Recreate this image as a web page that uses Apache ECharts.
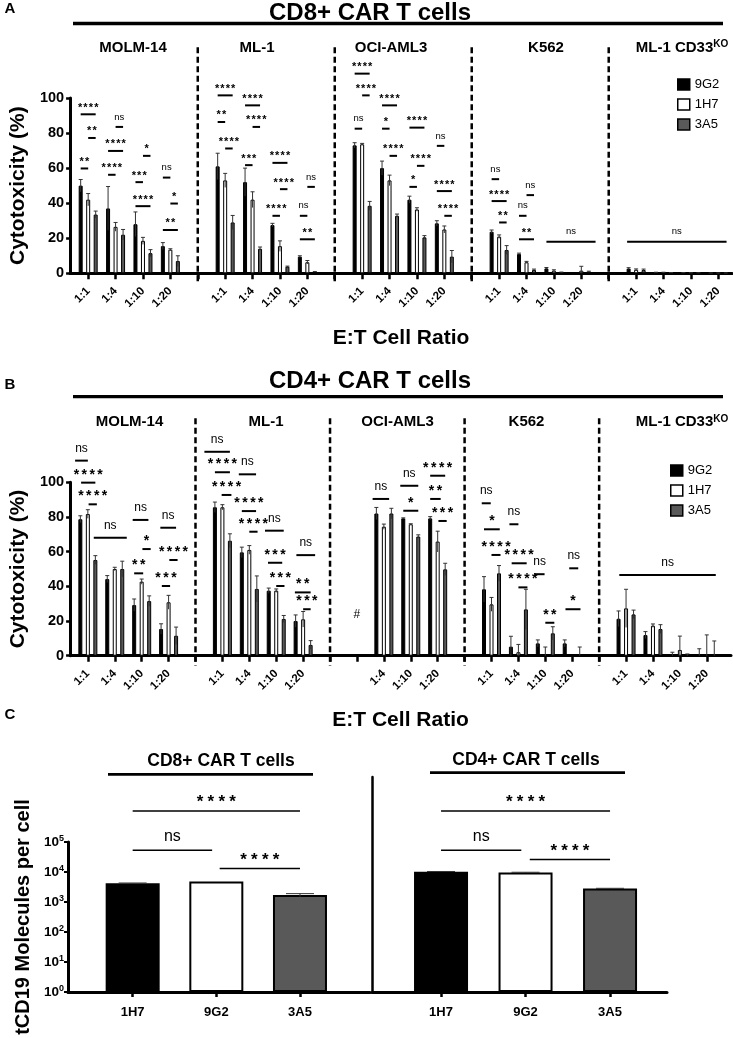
<!DOCTYPE html>
<html>
<head>
<meta charset="utf-8">
<title>CAR T cytotoxicity</title>
<script src="https://cdn.jsdelivr.net/npm/echarts@6.0.0/dist/echarts.min.js"></script>
<style>
  html, body { margin: 0; padding: 0; background: #fff; }
  #chart { width: 733px; height: 1038px; }
</style>
</head>
<body>
<div id="chart"></div>
<script>
const FONT = "'Liberation Sans', Arial, Helvetica, sans-serif"

// 5 target lines x 4 E:T ratios, one empty slot between target lines
const cellLines = ['MOLM-14', 'ML-1', 'OCI-AML3', 'K562', 'ML-1 CD33KO']
const ratios = ['1:1', '1:4', '1:10', '1:20']
const constructs = ['9G2', '1H7', '3A5']

// panel A - CD8+ CAR T cells, cytotoxicity (%)
const cd8_9G2 = [50, 37, 28, 15.5, 61, 52, 27.5, 9.5, 73, 60, 42, 28.5, 23.7, 11, 2.8, 0.3, 2.7, 0.4, 0.2, 0.1]
const cd8_1H7 = [42, 26.5, 18.5, 13.5, 53, 42, 15.5, 6.3, 73.6, 53, 36.4, 25, 20.9, 6.3, 1.5, 1.5, 2, 0.4, 0.2, 0.1]
const cd8_3A5 = [33.5, 22, 11.5, 7, 29, 14, 3.8, 0.8, 38.5, 32.8, 20.5, 9.5, 13.3, 1.9, 0.5, 1, 1.9, 0.3, 0.2, 0.1]
const cd8_9G2_sd = [3.5, 12.5, 7, 2, 7.5, 8, 1, 0.5, 1.5, 4, 2, 1.5, 1, 0.5, 0.5, 0, 0.5, 0.2, 0.2, 0.1]
const cd8_1H7_sd = [3.5, 2.5, 2, 0.5, 4, 4.5, 3, 1, 0.5, 3, 1, 2, 1, 0.5, 0.5, 2.5, 0.5, 0.2, 0.1, 0.1]
const cd8_3A5_sd = [2, 3, 2, 3, 4, 1, 0.3, 0.2, 2.5, 1, 1, 3.5, 2.5, 0.5, 0.2, 0.2, 0.5, 0.1, 0.1, 0.1]

// panel B - CD4+ CAR T cells (OCI-AML3 1:1 not tested)
const cd4_9G2 = [78.7, 44.2, 29.2, 15.4, 85.6, 59.6, 37.5, 20, null, 82, 79.2, 79.2, 38.3, 5.2, 7.1, 7.1, 21.3, 11.9, 0, 0]
const cd4_1H7 = [81.7, 50, 42.7, 30.8, 85.6, 61, 37.5, 21, null, 74.4, 75.8, 65.8, 29.6, 2, 0, 0, 27.3, 17.3, 3.3, 0]
const cd4_3A5 = [55.2, 50, 31.5, 11.5, 66.3, 38.5, 21.2, 6.2, null, 82, 68.7, 49.8, 47.5, 26.7, 12.9, 0, 23.8, 15.4, 0.5, 0]
const cd4_9G2_sd = [2, 2, 3.5, 3, 3, 3, 1.5, 3.5, null, 3.5, 0.3, 1, 7.3, 6, 2, 2, 4.5, 2, 2, 4]
const cd4_1H7_sd = [2.5, 1, 1.5, 4, 1.5, 2.5, 1, 4.5, null, 1.5, 0.3, 6, 4, 4.5, 5, 0, 11, 1, 8, 12]
const cd4_3A5_sd = [2.5, 4.5, 3, 5, 4, 7.5, 2, 2.5, null, 3, 1, 3.5, 4.5, 11.6, 3.8, 5, 2.5, 2.5, 0.5, 8.5]

// significance brackets: [slot from, bar from, slot to, bar to, height, label]
const sigA = [
  [0, 0, 0, 2, 90.7, '****'], [0, 1, 0, 2, 77.2, '**'], [0, 0, 0, 1, 59.8, '**'],
  [1, 1, 1, 2, 83.5, 'ns'], [1, 0, 1, 2, 69.8, '****'], [1, 0, 1, 1, 56.2, '****'],
  [2, 1, 2, 2, 67, '*'], [2, 0, 2, 1, 52, '***'], [2, 0, 2, 2, 38.3, '****'],
  [3, 0, 3, 1, 54.6, 'ns'], [3, 1, 3, 2, 39.8, '*'], [3, 0, 3, 2, 24.7, '**'],
  [5, 0, 5, 2, 101.5, '****'], [5, 0, 5, 1, 86.3, '**'], [5, 1, 5, 2, 71.2, '****'],
  [6, 0, 6, 2, 95.8, '****'], [6, 1, 6, 2, 83.5, '****'], [6, 0, 6, 1, 61.7, '***'],
  [7, 0, 7, 2, 63, '****'], [7, 1, 7, 2, 48, '****'], [7, 0, 7, 1, 32.8, '****'],
  [8, 1, 8, 2, 49.3, 'ns'], [8, 0, 8, 1, 32.8, 'ns'], [8, 0, 8, 2, 19.4, '**'],
  [10, 0, 10, 2, 113.9, '****'], [10, 1, 10, 2, 101.5, '****'], [10, 0, 10, 1, 82.5, 'ns'],
  [11, 0, 11, 2, 95.8, '****'], [11, 0, 11, 1, 82.5, '*'], [11, 1, 11, 2, 67, '****'],
  [12, 0, 12, 2, 83.1, '****'], [12, 1, 12, 2, 61.3, '****'], [12, 0, 12, 1, 49.3, '*'],
  [13, 0, 13, 1, 72.7, 'ns'], [13, 0, 13, 2, 46.9, '****'], [13, 1, 13, 2, 32.8, '****'],
  [15, 0, 15, 1, 53.7, 'ns'], [15, 0, 15, 2, 41.2, '****'], [15, 1, 15, 2, 29, '**'],
  [16, 1, 16, 2, 44.6, 'ns'], [16, 0, 16, 1, 32.8, 'ns'], [16, 0, 16, 2, 19.4, '**'],
  [17, 0, 18, 2.9, 18, 'ns'],
  [20, -0.2, 23, 2.1, 18, 'ns']
]
const sigB = [
  [0, -0.7, 0, 1, 112.5, 'ns'], [0, 0.1, 0, 2, 99.8, '****'], [0, 1.1, 0, 2.2, 87.3, '****'],
  [1, -1.8, 1, 2.6, 68, 'ns'],
  [2, -0.2, 2, 1.9, 78.3, 'ns'], [2, 1.1, 2, 2.2, 61.5, '*'], [2, 0, 2, 1.2, 47.5, '**'],
  [3, -0.1, 3, 2, 73.8, 'ns'], [3, 1.1, 3, 2.2, 55.2, '****'], [3, 0.1, 3, 1.2, 40.2, '***'],
  [5, -1.4, 5, 2, 117.6, 'ns'], [5, 0, 5, 2, 105.8, '****'], [5, 0.9, 5, 2.2, 92.7, '****'],
  [6, -0.4, 6, 1.9, 104.6, 'ns'], [6, 0, 6, 1.9, 83.4, '****'], [6, 1, 6, 2.1, 71.5, '****'],
  [7, -0.5, 7, 2, 72.1, 'ns'], [7, -0.1, 7, 1.8, 53.6, '***'], [7, 1, 7, 2.1, 40.2, '***'],
  [8, 0.1, 8, 2.6, 58, 'ns'], [8, -0.1, 8, 2, 36.5, '**'], [8, 1, 8, 2, 26.8, '***'],
  [10, 1, 10, 1, 23.5, '#'],
  [11, -0.5, 11, 1.7, 90.4, 'ns'],
  [12, -0.4, 12, 2, 98, 'ns'], [12, 0, 12, 2, 83.6, '*'],
  [13, 0, 13, 2, 103.8, '****'], [13, 0, 13, 1.4, 90.4, '**'], [13, 1.1, 13, 2.2, 77.7, '***'],
  [15, -0.3, 15, 0.9, 87.9, 'ns'], [15, 0, 15, 2.1, 72.9, '*'], [15, 1, 15, 2.2, 58.1, '****'],
  [16, -0.2, 16, 1, 75.8, 'ns'], [16, 0.1, 16, 2.1, 53.3, '****'], [16, 1, 16, 2.2, 39.4, '****'],
  [17, -0.4, 17, 0.9, 47, 'ns'], [17, 1, 17, 2.2, 19, '**'],
  [18, 0.6, 18, 1.8, 50.4, 'ns'], [18, 0.1, 18, 2.1, 26.8, '*'],
  [20, 0.1, 23, 2.2, 46.5, 'ns']
]

// panel C - tCD19 molecules per cell
const mfiLabels = ['1H7', '9G2', '3A5']
const mfiColors = ['#000000', '#ffffff', '#595959']
const cd8Molecules = [4200, 4800, 1700]
const cd8Molecules_sd = [100, 0, 200]
const cd4Molecules = [10200, 9600, 2800]
const cd4Molecules_sd = [200, 200, 60]
const sigC8 = [[0, 1, 2, 1, 1.08e6, '****'], [0, 1, 0.95, 1, 5.28e4, 'ns'], [1.04, 1, 2, 1, 1.3e4, '****']]
const sigC4 = [[0, 1, 2, 1, 1.08e6, '****'], [0, 1, 0.95, 1, 5.28e4, 'ns'], [1.05, 1, 2, 1, 2.59e4, '****']]

const barColors = ['#000000', '#ffffff', '#595959']
const slot = i => Math.floor(i / 4) * 5 + (i % 4)
const allSlots = Array.from({ length: 24 }, (_, i) => i)
const labelSlots = allSlots.filter(i => i % 5 !== 4)

function slotLabel(v) {
    const r = Math.round(v) % 5
    return r < 4 ? ratios[r] : ''
}

function barSeries(name, values, idx, k) {
    return {
        type: 'bar', name: name, xAxisIndex: idx, yAxisIndex: idx,
        data: values.map((v, i) => [slot(i), v == null ? '-' : v]),
        barWidth: 4, barGap: '87.5%',
        itemStyle: { color: barColors[k], borderColor: '#000', borderWidth: 1 },
        emphasis: { disabled: true }, z: 2
    }
}

function errorSeries(values, sd, idx, offset, cap, xs) {
    const data = []
    values.forEach((v, i) => {
        if (v != null) data.push([xs ? xs[i] : slot(i), v, sd[i]])
    })
    return {
        type: 'custom', xAxisIndex: idx, yAxisIndex: idx, clip: false, silent: true, z: 4,
        data: data,
        renderItem: function (params, api) {
            const x = api.value(0), v = api.value(1), e = api.value(2)
            if (!e) return
            const lo = Math.max(v - e, idx >= 2 ? 1 : 0)
            const pTop = api.coord([x, v + e])
            const pLow = api.coord([x, lo])
            const px = pTop[0] + offset
            const st = { stroke: '#333', lineWidth: 1 }
            return {
                type: 'group', children: [
                    { type: 'line', shape: { x1: px, y1: pLow[1], x2: px, y2: pTop[1] }, style: st },
                    { type: 'line', shape: { x1: px - cap, y1: pTop[1], x2: px + cap, y2: pTop[1] }, style: st }
                ]
            }
        }
    }
}

function sigSeries(list, idx, step, cfg) {
    return {
        type: 'custom', xAxisIndex: idx, yAxisIndex: idx, clip: false, silent: true, z: 5,
        data: list.map(a => [a[0], a[4]]),
        renderItem: function (params, api) {
            const a = list[params.dataIndex]
            const p0 = api.coord([a[0], a[4]])
            const p1 = api.coord([a[2], a[4]])
            const x0 = p0[0] + (a[1] - 1) * step
            const x1 = p1[0] + (a[3] - 1) * step
            const y = p0[1]
            const cx = (x0 + x1) / 2
            const label = a[5]
            if (label === '#') {
                return { type: 'text', x: cx, y: y, style: { text: '#', fontSize: cfg.ns, fontFamily: FONT, fill: '#000', align: 'center', verticalAlign: 'middle' } }
            }
            let textEl
            if (label === 'ns') {
                textEl = { type: 'text', x: cx, y: y - cfg.d - cfg.ns * 0.1,
                    style: { text: 'ns', fontSize: cfg.ns, fontFamily: FONT, fill: '#000', align: 'center', verticalAlign: 'middle' } }
            } else {
                textEl = { type: 'text', x: cx, y: y - cfg.d + cfg.ast * 0.22,
                    style: {
                        text: label.split('').map(() => '{s|*}').join(''), fill: '#000', align: 'center', verticalAlign: 'middle',
                        rich: { s: { width: cfg.astW, align: 'center', fontSize: cfg.ast, fontWeight: 'bold', fontFamily: FONT, fill: '#000' } }
                    } }
            }
            return {
                type: 'group', children: [
                    { type: 'line', shape: { x1: x0, y1: y, x2: x1, y2: y }, style: { stroke: '#000', lineWidth: cfg.lw } },
                    textEl
                ]
            }
        }
    }
}

function separatorSeries(idx, top) {
    return {
        type: 'custom', xAxisIndex: idx, yAxisIndex: idx, clip: false, silent: true, z: 1,
        data: [[4, 0], [9, 0], [14, 0], [19, 0]],
        renderItem: function (params, api) {
            const pTop = api.coord([api.value(0), top])
            const pBot = api.coord([api.value(0), 0])
            return { type: 'line', shape: { x1: pTop[0], y1: pTop[1], x2: pBot[0], y2: pBot[1] + 10 },
                style: { stroke: '#000', lineWidth: 2.5, lineDash: [6, 3.5] } }
        }
    }
}

function ratioAxis(idx, max, labels) {
    return {
        type: 'value', gridIndex: idx, min: -0.66, max: max,
        name: 'E:T Cell Ratio', nameLocation: 'middle', nameGap: 54,
        nameTextStyle: { fontSize: 21, fontWeight: 'bold', color: '#000', fontFamily: FONT },
        splitLine: { show: false },
        axisLine: { onZero: false, lineStyle: { color: '#000', width: 3 } },
        axisTick: { customValues: allSlots, length: 6, lineStyle: { color: '#000', width: 2.5 } },
        axisLabel: { customValues: labels, formatter: slotLabel, rotate: 45, margin: 16,
            fontSize: 11.5, fontWeight: 'bold', color: '#000', fontFamily: FONT }
    }
}

function pctAxis(idx) {
    return {
        type: 'value', gridIndex: idx, min: 0, max: 100, interval: 20,
        name: 'Cytotoxicity (%)', nameLocation: 'middle', nameGap: 31,
        nameTextStyle: { fontSize: 21, fontWeight: 'bold', color: '#000', fontFamily: FONT },
        splitLine: { show: false },
        axisLine: { show: true, onZero: false, lineStyle: { color: '#000', width: 3 } },
        axisTick: { show: true, length: 4, lineStyle: { color: '#000', width: 2.5 } },
        axisLabel: { margin: 6, fontSize: 14.5, fontWeight: 'bold', color: '#000', fontFamily: FONT }
    }
}

function mfiXAxis(idx, min, max) {
    return {
        type: 'value', gridIndex: idx, min: min, max: max,
        splitLine: { show: false },
        axisLine: { onZero: false, lineStyle: { color: '#000', width: 3 } },
        axisTick: { customValues: [0, 1, 2], length: 5, lineStyle: { color: '#000', width: 2.5 } },
        axisLabel: { customValues: [0, 1, 2], formatter: v => mfiLabels[Math.round(v)], margin: 14,
            fontSize: 13, fontWeight: 'bold', color: '#000', fontFamily: FONT }
    }
}

function mfiBars(values, idx) {
    return {
        type: 'bar', xAxisIndex: idx, yAxisIndex: idx, barWidth: 54,
        data: values.map((v, i) => ({ value: [i, v], itemStyle: { color: mfiColors[i] } })),
        itemStyle: { borderColor: '#000', borderWidth: 2 },
        emphasis: { disabled: true }, z: 2
    }
}

const cellTitle = (text, x, y) => ({
    type: 'text', x: x, y: y,
    style: {
        text: text.replace('CD33KO', 'CD33{ko|KO}'), fontSize: 15, fontWeight: 'bold', fontFamily: FONT, fill: '#000',
        align: 'center', verticalAlign: 'middle',
        rich: { ko: { fontSize: 10, fontWeight: 'bold', fontFamily: FONT, fill: '#000', verticalAlign: 'top', padding: [0, 0, 6, 0] } }
    }
})
const bigText = (text, x, y, size) => ({
    type: 'text', x: x, y: y,
    style: { text: text, fontSize: size, fontWeight: 'bold', fontFamily: FONT, fill: '#000', align: 'center', verticalAlign: 'middle' }
})
const rule = (x1, x2, y, w) => ({ type: 'line', shape: { x1: x1, y1: y, x2: x2, y2: y }, style: { stroke: '#000', lineWidth: w } })

const cellXA = [133, 257, 391, 546, 682]
const cellXB = [129.5, 266, 397.5, 526.5, 682]

const legendBase = {
    data: constructs, orient: 'vertical', icon: 'rect', itemWidth: 12, itemHeight: 11, itemGap: 7, padding: 0,
    selectedMode: false, itemStyle: { borderColor: '#000', borderWidth: 1.5 },
    textStyle: { fontSize: 13, color: '#000', fontFamily: FONT }
}

const chart = echarts.init(document.getElementById('chart'), null, { renderer: 'canvas' })
chart.setOption({
    animation: false,
    backgroundColor: '#fff',
    textStyle: { fontFamily: FONT },
    grid: [
        { left: 69, top: 98, width: 663, height: 175.3 },
        { left: 69, top: 482.3, width: 662, height: 173.4 },
        { left: 68, top: 842, width: 302, height: 150 },
        { left: 372, top: 777, width: 295, height: 215 }
    ],
    legend: [
        Object.assign({}, legendBase, { left: 677, top: 78 }),
        Object.assign({}, legendBase, { left: 670, top: 464 })
    ],
    xAxis: [
        ratioAxis(0, 23.5, labelSlots),
        ratioAxis(1, 23.9, labelSlots.filter(i => i !== 10)),
        mfiXAxis(2, -0.773, 2.837),
        mfiXAxis(3, -0.817, 2.674)
    ],
    yAxis: [
        pctAxis(0),
        pctAxis(1),
        {
            type: 'log', gridIndex: 2, logBase: 10, min: 1, max: 100000,
            name: 'tCD19 Molecules per cell', nameLocation: 'middle', nameGap: 35,
            nameTextStyle: { fontSize: 20, fontWeight: 'bold', color: '#000', fontFamily: FONT },
            splitLine: { show: false }, minorTick: { show: false },
            axisLine: { show: true, onZero: false, lineStyle: { color: '#000', width: 3 } },
            axisTick: { show: true, length: 4, lineStyle: { color: '#000', width: 2 } },
            axisLabel: {
                margin: 4, color: '#000', fontFamily: FONT,
                formatter: v => '{b|10}{sup|' + Math.round(Math.log10(v)) + '}',
                rich: {
                    b: { fontSize: 13.5, fontWeight: 'bold', color: '#000', fontFamily: FONT },
                    sup: { fontSize: 9, fontWeight: 'bold', color: '#000', fontFamily: FONT, verticalAlign: 'top', padding: [0, 0, 6, 0] }
                }
            }
        },
        {
            type: 'log', gridIndex: 3, logBase: 10, min: 1, max: Math.pow(10, 215 / 30),
            splitLine: { show: false }, axisTick: { show: false }, axisLabel: { show: false },
            axisLine: { show: true, onZero: false, lineStyle: { color: '#000', width: 2.5 } }
        }
    ],
    graphic: [
        bigText('A', 10, 9, 15), bigText('B', 10, 385, 15), bigText('C', 10, 715, 15),
        bigText('CD8+ CAR T cells', 370, 13, 24), rule(73, 723, 23.5, 3.3),
        bigText('CD4+ CAR T cells', 370, 381, 24), rule(73, 723, 396.7, 3.3),
        bigText('CD8+ CAR T cells', 221, 761, 17.5), rule(108, 313, 774.3, 2.7),
        bigText('CD4+ CAR T cells', 526, 760, 17.5), rule(430, 625, 772.7, 2.7),
        ...cellLines.map((c, i) => cellTitle(c, cellXA[i], 47.5)),
        ...cellLines.map((c, i) => cellTitle(c, cellXB[i], 422))
    ],
    series: [
        separatorSeries(0, 129),
        separatorSeries(1, 137),
        barSeries('9G2', cd8_9G2, 0, 0), barSeries('1H7', cd8_1H7, 0, 1), barSeries('3A5', cd8_3A5, 0, 2),
        errorSeries(cd8_9G2, cd8_9G2_sd, 0, -7.5, 2), errorSeries(cd8_1H7, cd8_1H7_sd, 0, 0, 2), errorSeries(cd8_3A5, cd8_3A5_sd, 0, 7.5, 2),
        barSeries('9G2', cd4_9G2, 1, 0), barSeries('1H7', cd4_1H7, 1, 1), barSeries('3A5', cd4_3A5, 1, 2),
        errorSeries(cd4_9G2, cd4_9G2_sd, 1, -7.5, 2), errorSeries(cd4_1H7, cd4_1H7_sd, 1, 0, 2), errorSeries(cd4_3A5, cd4_3A5_sd, 1, 7.5, 2),
        sigSeries(sigA, 0, 7.5, { ns: 9.5, ast: 11, astW: 5.4, d: 9, lw: 2 }),
        sigSeries(sigB, 1, 7.5, { ns: 12, ast: 14, astW: 7.9, d: 11, lw: 2 }),
        mfiBars(cd8Molecules, 2), mfiBars(cd4Molecules, 3),
        errorSeries(cd8Molecules, cd8Molecules_sd, 2, 0, 14, [0, 1, 2]),
        errorSeries(cd4Molecules, cd4Molecules_sd, 3, 0, 14, [0, 1, 2]),
        sigSeries(sigC8, 2, 0, { ns: 16, ast: 17, astW: 10.8, d: 12.5, lw: 1.5 }),
        sigSeries(sigC4, 3, 0, { ns: 16, ast: 17, astW: 10.8, d: 12.5, lw: 1.5 })
    ]
})
</script>
</body>
</html>
